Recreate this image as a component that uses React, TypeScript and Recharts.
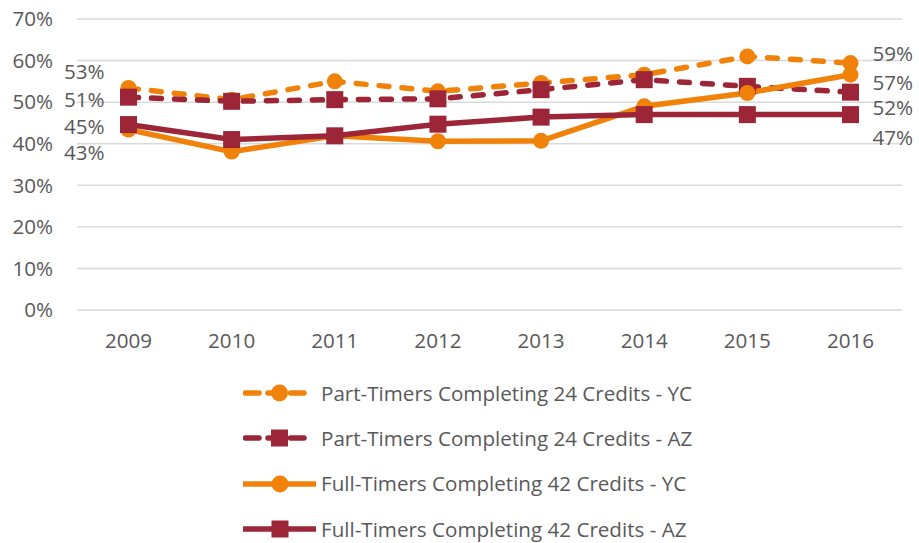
import React from 'react';
import { LineChart, Line, XAxis, YAxis, CartesianGrid, Legend, LabelList } from 'recharts';

const years = ['2009', '2010', '2011', '2012', '2013', '2014', '2015', '2016'];
const ptYC = [53.4, 50.6, 55.0, 52.6, 54.6, 56.6, 61.0, 59.4];
const ptAZ = [51.2, 50.2, 50.6, 50.8, 53.0, 55.4, 53.8, 52.4];
const ftYC = [43.4, 38.1, 41.9, 40.6, 40.7, 49.0, 52.2, 56.6];
const ftAZ = [44.6, 41.0, 41.9, 44.7, 46.4, 47.0, 47.0, 47.0];
const yTicks = [0, 10, 20, 30, 40, 50, 60, 70];
const seriesNames = [
  'Part-Timers Completing 24 Credits - YC',
  'Part-Timers Completing 24 Credits - AZ',
  'Full-Timers Completing 42 Credits - YC',
  'Full-Timers Completing 42 Credits - AZ',
];

const data = years.map((y, i) => ({ year: y, ptYC: ptYC[i], ptAZ: ptAZ[i], ftYC: ftYC[i], ftAZ: ftAZ[i] }));

const ORANGE = '#F0820A';
const RED = '#9C2637';
const TEXT = '#595959';
const FONT = '"Open Sans", sans-serif';
const FS = 20.6;
const DASH = '10 13';
const SW = 5.5;

const makeLabel = (leftDy: number, rightDy: number) => (props: any) => {
  const { x, y, index, value } = props;
  const last = years.length - 1;
  if (index !== 0 && index !== last) return null;
  const txt = `${Math.round(Number(value))}%`;
  if (index === 0) {
    return (
      <text x={x - 24} y={y + leftDy} textAnchor="end" dominantBaseline="central" fill={TEXT} fontSize={FS} fontFamily={FONT}>
        {txt}
      </text>
    );
  }
  return (
    <text x={x + 22} y={y + rightDy} textAnchor="start" dominantBaseline="central" fill={TEXT} fontSize={FS} fontFamily={FONT}>
      {txt}
    </text>
  );
};

const squareDot = (color: string) => (props: any) => {
  const { cx, cy, index } = props;
  if (cx == null || cy == null) return <g key={index} />;
  return <rect key={index} x={cx - 8.5} y={cy - 8.5} width={17} height={17} fill={color} />;
};

const legendItems = [
  { name: seriesNames[0], color: ORANGE, dashed: true, marker: 'circle' },
  { name: seriesNames[1], color: RED, dashed: true, marker: 'square' },
  { name: seriesNames[2], color: ORANGE, dashed: false, marker: 'circle' },
  { name: seriesNames[3], color: RED, dashed: false, marker: 'square' },
];

const LegendContent = () => (
  <div style={{ position: 'relative', width: 919, height: 175 }}>
    {legendItems.map((it, i) => (
      <div
        key={it.name}
        style={{
          position: 'absolute',
          left: 243,
          top: 2.5 + i * 45.3,
          height: 45.3,
          display: 'flex',
          alignItems: 'center',
        }}
      >
        <svg width={78} height={24} style={{ display: 'block' }}>
          {it.dashed ? (
            <line x1={2.5} y1={12} x2={64} y2={12} stroke={it.color} strokeWidth={SW} strokeDasharray="13.5 9" strokeLinecap="round" />
          ) : (
            <line x1={0} y1={12} x2={73} y2={12} stroke={it.color} strokeWidth={SW} />
          )}
          {it.marker === 'circle' ? (
            <circle cx={it.dashed ? 36.5 : 37} cy={12} r={8.5} fill={it.color} />
          ) : (
            <rect x={(it.dashed ? 36.5 : 37) - 8.5} y={3.5} width={17} height={17} fill={it.color} />
          )}
        </svg>
        <span style={{ fontFamily: FONT, fontSize: FS, color: TEXT, lineHeight: 1, whiteSpace: 'nowrap' }}>{it.name}</span>
      </div>
    ))}
  </div>
);

export default function App() {
  return (
    <div style={{ position: 'absolute', left: 0, top: 0, width: 919, height: 543, background: '#fff' }}>
      <LineChart
        width={919}
        height={543}
        data={data}
        margin={{ top: 19, right: 17, bottom: 0, left: 0 }}
        style={{ fontFamily: FONT }}
      >
        <CartesianGrid vertical={false} stroke="#D9D9D9" strokeWidth={1.5} />
        <XAxis
          dataKey="year"
          axisLine={false}
          tickLine={false}
          tickSize={0}
          tickMargin={23}
          height={58}
          padding={{ left: 51.5, right: 51.5 }}
          tick={{ fill: TEXT, fontSize: FS, fontFamily: FONT }}
          interval={0}
        />
        <YAxis
          domain={[0, 70]}
          ticks={yTicks}
          axisLine={false}
          tickLine={false}
          tickSize={0}
          tickMargin={24}
          width={77}
          tickFormatter={(v: number) => `${v}%`}
          tick={{ fill: TEXT, fontSize: FS, fontFamily: FONT }}
        />
        <Legend verticalAlign="bottom" content={<LegendContent />} wrapperStyle={{ left: 0, bottom: 0, width: 919 }} />
        <Line
          dataKey="ptYC"
          name={seriesNames[0]}
          stroke={ORANGE}
          strokeWidth={SW}
          strokeDasharray={DASH}
          strokeLinecap="round"
          dot={{ r: 8, fill: ORANGE, stroke: 'none', strokeDasharray: '' }}
          activeDot={false}
          isAnimationActive={false}
        >
          <LabelList dataKey="ptYC" content={makeLabel(-17, -10)} />
        </Line>
        <Line
          dataKey="ptAZ"
          name={seriesNames[1]}
          stroke={RED}
          strokeWidth={SW}
          strokeDasharray={DASH}
          strokeLinecap="round"
          dot={squareDot(RED)}
          activeDot={false}
          isAnimationActive={false}
        >
          <LabelList dataKey="ptAZ" content={makeLabel(2, 15)} />
        </Line>
        <Line
          dataKey="ftYC"
          name={seriesNames[2]}
          stroke={ORANGE}
          strokeWidth={SW}
          dot={{ r: 8, fill: ORANGE, stroke: 'none' }}
          activeDot={false}
          isAnimationActive={false}
        >
          <LabelList dataKey="ftYC" content={makeLabel(22, 7)} />
        </Line>
        <Line
          dataKey="ftAZ"
          name={seriesNames[3]}
          stroke={RED}
          strokeWidth={SW}
          dot={squareDot(RED)}
          activeDot={false}
          isAnimationActive={false}
        >
          <LabelList dataKey="ftAZ" content={makeLabel(1, 22)} />
        </Line>
      </LineChart>
    </div>
  );
}
